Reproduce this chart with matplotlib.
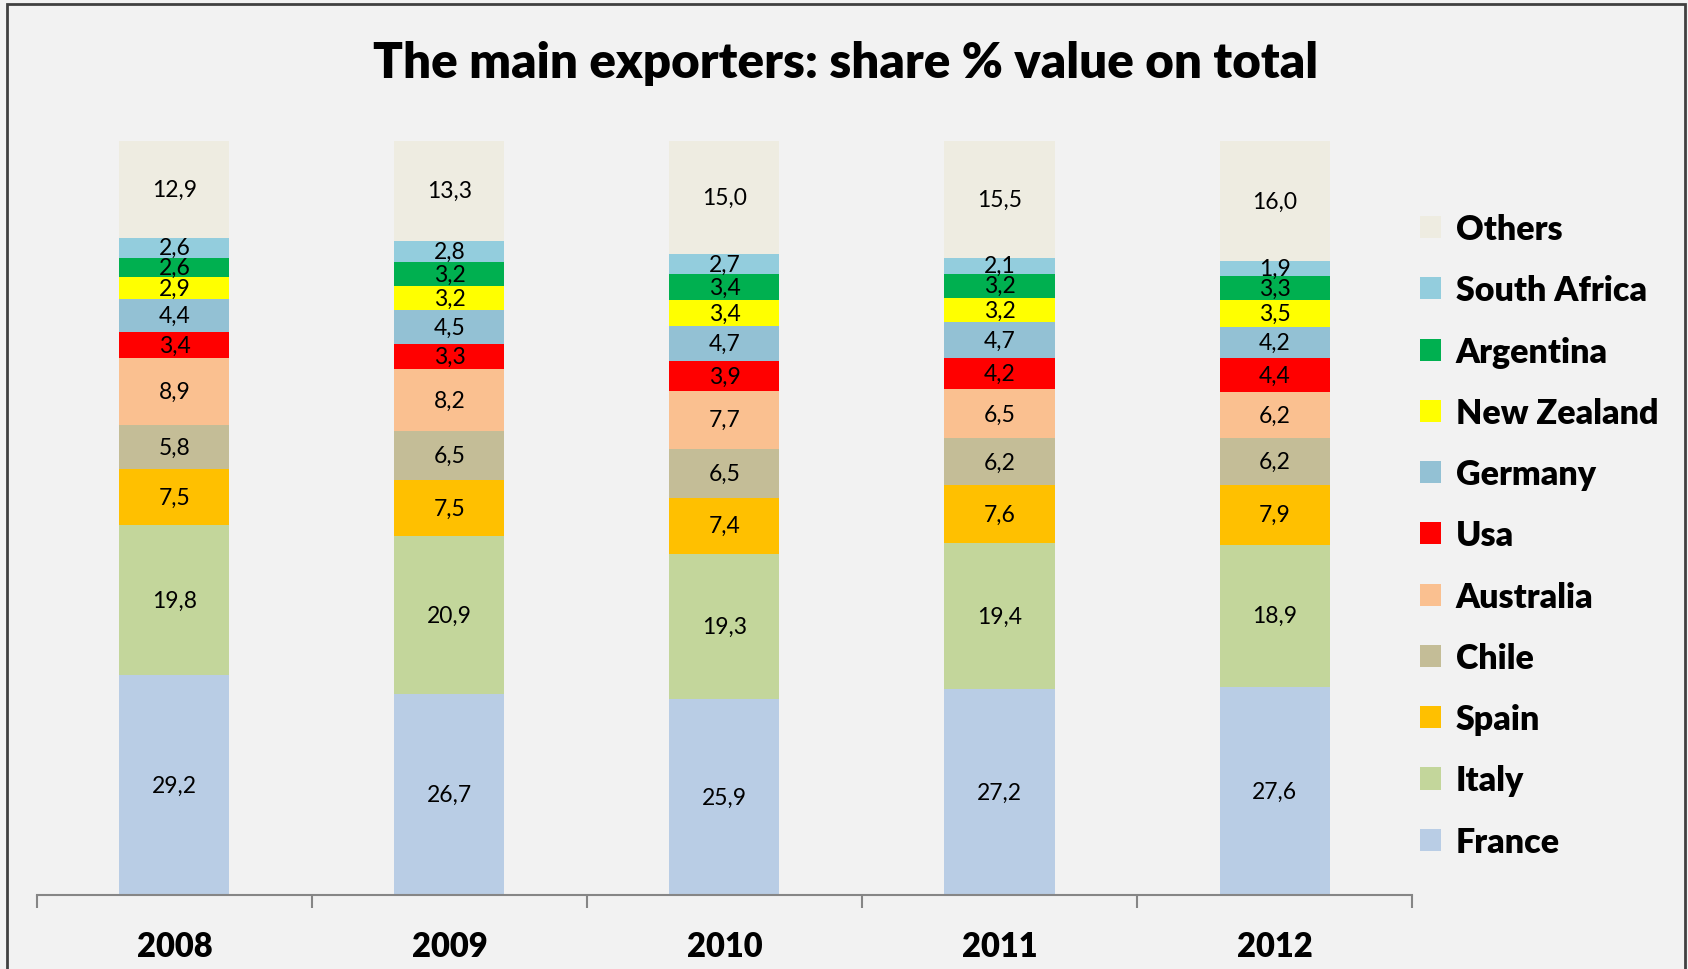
import matplotlib.pyplot as plt
import numpy as np
from matplotlib.patches import Rectangle, Patch

years = ['2008', '2009', '2010', '2011', '2012']
countries = ['France', 'Italy', 'Spain', 'Chile', 'Australia', 'Usa',
             'Germany', 'New Zealand', 'Argentina', 'South Africa', 'Others']
colors = ['#B9CDE5', '#C3D69B', '#FFC000', '#C4BD97', '#FAC090', '#FF0000',
          '#93C1D4', '#FFFF00', '#00B050', '#93CDDD', '#EEECE1']

france = [29.2, 26.7, 25.9, 27.2, 27.6]
italy = [19.8, 20.9, 19.3, 19.4, 18.9]
spain = [7.5, 7.5, 7.4, 7.6, 7.9]
chile = [5.8, 6.5, 6.5, 6.2, 6.2]
australia = [8.9, 8.2, 7.7, 6.5, 6.2]
usa = [3.4, 3.3, 3.9, 4.2, 4.4]
germany = [4.4, 4.5, 4.7, 4.7, 4.2]
new_zealand = [2.9, 3.2, 3.4, 3.2, 3.5]
argentina = [2.6, 3.2, 3.4, 3.2, 3.3]
south_africa = [2.6, 2.8, 2.7, 2.1, 1.9]
others = [12.9, 13.3, 15.0, 15.5, 16.0]

series = [france, italy, spain, chile, australia, usa,
          germany, new_zealand, argentina, south_africa, others]

plt.rcParams['font.family'] = ['Lato', 'DejaVu Sans']

fig = plt.figure(figsize=(16.88, 9.70), dpi=100, facecolor='#F2F2F2')
ax = fig.add_axes([0.0219, 0.0763, 0.8146, 0.7776])
ax.set_facecolor('#F2F2F2')

vals = np.array(series)
shares = vals / vals.sum(axis=0) * 100  # 100% stacked
x = np.arange(len(years))
bottom = np.zeros(len(years))
handles = []
for name, col, raw, h in zip(countries, colors, vals, shares):
    ax.bar(x, h, bottom=bottom, width=0.4, color=col, edgecolor='none')
    for xi, b, hh, v in zip(x, bottom, h, raw):
        ax.text(xi, b + hh / 2, f'{v:.1f}'.replace('.', ','), ha='center', va='center',
                fontsize=16.5, color='black')
    bottom += h
    handles.append(Patch(facecolor=col, edgecolor='none', label=name))

ax.set_xlim(-0.5, len(years) - 0.5)
ax.set_ylim(0, 100)
ax.set_yticks([])
for s in ['left', 'right', 'top']:
    ax.spines[s].set_visible(False)
ax.spines['bottom'].set_color('#868686')
ax.spines['bottom'].set_linewidth(1.5)

ax.set_xticks(np.arange(len(years) + 1) - 0.5)
ax.set_xticklabels([])
ax.tick_params(axis='x', length=9, width=1.5, color='#868686', direction='out')
for xi, yr in zip(x, years):
    ax.text(xi, -4.7, yr, ha='center', va='top', fontsize=23.5, fontweight='heavy')

fig.text(0.501, 0.935, 'The main exporters: share % value on total', ha='center', va='center',
         fontsize=35.5, fontweight='heavy')

fig.legend(handles=handles[::-1], loc='center left', bbox_to_anchor=(0.8228, 0.447),
           frameon=False, prop={'weight': 'heavy', 'size': 24.5},
           handlelength=0.62, handleheight=0.62, handletextpad=0.45, labelspacing=0.86)

fig.patches.append(Rectangle((0.0042, -0.05), 0.9938, 1.045, transform=fig.transFigure,
                             fill=False, edgecolor='#404040', linewidth=2))

fig.savefig('out.png', dpi=100, facecolor=fig.get_facecolor())
